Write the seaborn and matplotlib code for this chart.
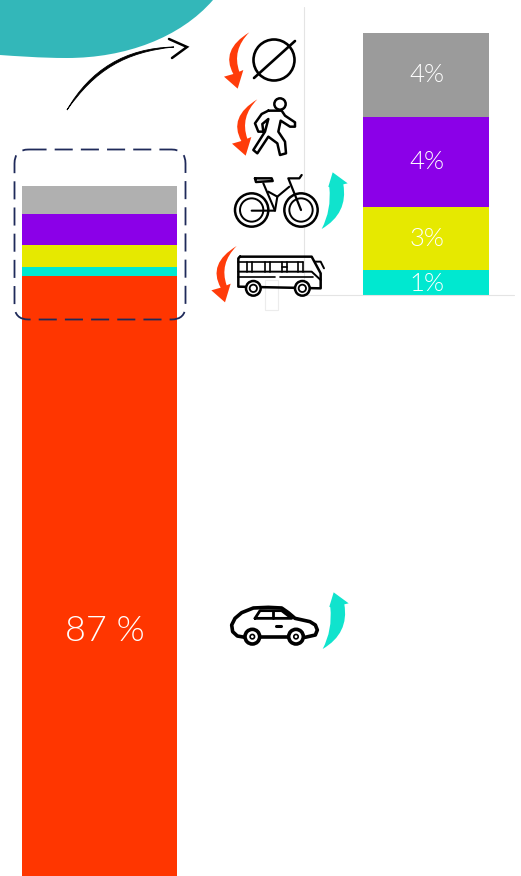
import numpy as np
import pandas as pd
import matplotlib
matplotlib.use("Agg")
import matplotlib.pyplot as plt
from matplotlib.path import Path
from matplotlib.patches import PathPatch, FancyBboxPatch, Circle, Rectangle
import seaborn as sns

# Mode share, bottom to top
modes = ["car", "bus", "bike", "walk", "none"]
shares = [87.0, 1.2, 2.9, 4.15, 3.85]
labels = ["87 %", "1%", "3%", "4%", "4%"]

left_colors = ["#ff3600", "#00e8d0", "#e6e900", "#8b00e8", "#b0b0b0"]
right_colors = ["#ff3600", "#00e8d0", "#e6e900", "#8b00e8", "#9b9b9b"]

W, H = 521, 876
sns.set_theme(style="white")
plt.rcParams["font.family"] = ["Lato", "DejaVu Sans"]

df = pd.DataFrame({"mode": modes, "share": shares})
df["bottom"] = df["share"].cumsum() - df["share"]
df["top"] = df["share"].cumsum()

fig = plt.figure(figsize=(W / 100, H / 100), dpi=100)


def px_axes(x0, y0, x1, y1):
    return fig.add_axes([x0 / W, 1 - y1 / H, (x1 - x0) / W, (y1 - y0) / H])


def stacked(ax, data, colors):
    # tallest first, the shorter ones paint over it
    for i in range(len(data) - 1, -1, -1):
        sns.barplot(x=[0], y=[data["top"].iloc[i]], color=colors[i], width=1,
                    saturation=1, linewidth=0, ax=ax, zorder=2 + len(data) - i)
    ax.set_xlim(-0.5, 0.5)
    ax.set_axis_off()


# overview bar, runs off the bottom of the picture
ax_left = px_axes(22, 186, 177, 876)
stacked(ax_left, df, left_colors)
top_left = df["top"].max()
ax_left.set_ylim(top_left - 690 / 7.4, top_left)
ax_left.text(0.035, 39.0, labels[0], color="white", fontsize=26, fontweight=300,
             ha="center", va="center", zorder=20)

# zoomed bar without the car share
zoom = df.iloc[1:].copy()
zoom["top"] = zoom["top"] - df["share"].iloc[0]
zoom["bottom"] = zoom["bottom"] - df["share"].iloc[0]
ax_right = px_axes(363, 33, 489, 296)
stacked(ax_right, zoom, right_colors[1:])
ax_right.set_ylim(0, zoom["top"].max())
for b, t, lab in zip(zoom["bottom"], zoom["top"], labels[1:]):
    ax_right.text(0.01, (b + t) / 2 - 0.03, lab, color="white", fontsize=18.5, fontweight=300,
                  ha="center", va="center", zorder=20, clip_on=True)

# overlay in pixel coordinates for the decoration
ov = fig.add_axes([0, 0, 1, 1], zorder=30)
ov.set_xlim(0, W)
ov.set_ylim(H, 0)
ov.set_axis_off()
ov.patch.set_alpha(0)

# teal blob
blob = Path([(0, 0), (213, 0), (180, 38), (125, 58), (67, 58), (40, 58), (15, 56), (0, 55), (0, 0)],
            [Path.MOVETO, Path.LINETO, Path.CURVE4, Path.CURVE4, Path.CURVE4,
             Path.CURVE4, Path.CURVE4, Path.CURVE4, Path.CLOSEPOLY])
ov.add_patch(PathPatch(blob, fc="#33b7b9", ec="none"))

# faint guide lines behind the zoomed bar
ov.plot([303.5, 303.5], [7, 295], color="#e4e4e4", lw=0.8, zorder=0)
ov.plot([303, 514], [295, 295], color="#e4e4e4", lw=0.8, zorder=0)
ov.add_patch(Rectangle((265, 280), 13, 30, fc="none", ec="#ececec", lw=0.8, zorder=0))

# dashed selection box
ov.add_patch(FancyBboxPatch((14.5 + 14, 149.5 + 14), 171 - 28, 170 - 28,
                            boxstyle="round,pad=14,rounding_size=14", fc="none",
                            ec="#1f2a5a", lw=1.3, ls=(0, (10, 4.5)), zorder=5))

# black arrow
curve = Path([(67, 110), (90, 70), (125, 48), (174, 47), (125, 52), (95, 70), (67, 110)],
             [Path.MOVETO, Path.CURVE4, Path.CURVE4, Path.CURVE4, Path.CURVE4, Path.CURVE4, Path.CURVE4])
ov.add_patch(PathPatch(curve, fc="black", ec="black", lw=0.6))
ov.plot([169, 187, 172], [39, 47, 58], color="black", lw=1.8, solid_joinstyle="miter")

# coloured swoosh arrows, drawn in the 3x crop coordinates
RED = "#ff3c0a"
CYAN = "#10e3cd"


def z(pts, ox=200, oy=0):
    return [(x / 3 + ox, y / 3 + oy) for x, y in pts]


def swoosh(pts, codes, color, dx=0, dy=0):
    ov.add_patch(PathPatch(Path(z([(x + dx, y + dy) for x, y in pts]), codes), fc=color, ec="none", zorder=6))


red_pts = [(148, 97), (60, 150), (100, 222), (72, 230), (113, 266), (130, 210), (118, 215), (95, 150), (148, 97)]
red_codes = [Path.MOVETO, Path.CURVE3, Path.CURVE3, Path.LINETO, Path.LINETO, Path.LINETO, Path.LINETO,
             Path.CURVE3, Path.CURVE3]
swoosh(red_pts, red_codes, RED)
swoosh(red_pts, red_codes, RED, 24, 201)
swoosh(red_pts, red_codes, RED, -38, 641)

cy_pts = [(365, 687), (395, 630), (388, 562), (385, 560), (398, 517), (443, 550), (430, 553), (445, 640), (365, 687)]
cy_codes = [Path.MOVETO, Path.CURVE3, Path.CURVE3, Path.LINETO, Path.LINETO, Path.LINETO, Path.LINETO,
            Path.CURVE3, Path.CURVE3]
swoosh(cy_pts, cy_codes, CYAN)
swoosh(cy_pts, cy_codes, CYAN, 3, 1260)


def line(pts, lw=1.8, ox=200, oy=0, close=False):
    p = z(pts, ox, oy)
    if close:
        p = p + [p[0]]
    xs, ys = zip(*p)
    ov.plot(xs, ys, color="black", lw=lw, solid_capstyle="round", solid_joinstyle="round", zorder=7)


def ring(x, y, r, lw=1.8, ox=200, oy=0):
    ov.add_patch(Circle((x / 3 + ox, y / 3 + oy), r / 3, fc="white", ec="black", lw=lw, zorder=7))


# no trip symbol
ov.add_patch(Circle((274, 60), 20.5, fc="none", ec="black", lw=1.9, zorder=7))
ov.plot([254, 295], [78, 41], color="black", lw=1.9, zorder=7)

# walker
ring(240, 312, 17)
line([(205, 332), (245, 332), (255, 347), (285, 367), (285, 380), (270, 380), (242, 362), (235, 395),
      (255, 425), (258, 460), (240, 465), (232, 430), (205, 410), (172, 460), (160, 450), (195, 395),
      (205, 357), (187, 372), (190, 395), (175, 395), (165, 370), (185, 342)], close=True)

# bicycle
for cx in (155, 303):
    ring(cx, 630, 50)
    ring(cx, 630, 35, lw=1.4)
line([(165, 535), (215, 535), (218, 543), (168, 546)], close=True)
line([(190, 550), (225, 632), (155, 632)], lw=1.5)
line([(305, 525), (298, 535), (265, 535), (303, 630)], lw=1.6)
line([(268, 560), (232, 590), (205, 575)], lw=1.5)
line([(232, 590), (225, 632)], lw=1.5)

# bus
line([(120, 770), (335, 770), (362, 820), (362, 865), (115, 860), (115, 775)], close=True)
line([(115, 815), (335, 815), (362, 840)], lw=1.4)
line([(115, 830), (225, 830)], lw=1.2)
line([(240, 830), (340, 830)], lw=1.2)
for xb in (140, 155, 195, 210, 245, 262, 295, 310):
    line([(xb, 785), (xb, 815)], lw=1.2)
line([(245, 800), (262, 800)], lw=1.2)
line([(115, 785), (310, 785)], lw=1.2)
line([(345, 785), (362, 785), (372, 805)], lw=1.4)
for xb in (160, 307):
    ring(xb, 865, 22)
    ring(xb, 865, 11, lw=1.3)

# car
cx0, cy0 = 210, 580
line([(105, 172), (82, 168), (68, 155), (65, 135), (75, 115), (95, 98), (130, 84), (175, 82), (215, 84),
      (235, 98), (255, 115), (300, 125), (316, 135), (322, 150), (316, 165), (285, 172)],
     lw=2.6, ox=cx0, oy=cy0)
line([(150, 172), (235, 172)], lw=2.6, ox=cx0, oy=cy0)
line([(135, 115), (150, 92), (215, 92), (245, 115)], lw=2, ox=cx0, oy=cy0, close=True)
line([(190, 92), (190, 115)], lw=2, ox=cx0, oy=cy0)
line([(197, 137), (213, 137)], lw=2.2, ox=cx0, oy=cy0)
for xb in (127, 258):
    ring(xb, 170, 22, lw=2.6, ox=cx0, oy=cy0)
    ov.add_patch(Circle((xb / 3 + cx0, 170 / 3 + cy0), 2.2, fc="white", ec="black", lw=1.2, zorder=8))

fig.savefig("out.png", dpi=100)
